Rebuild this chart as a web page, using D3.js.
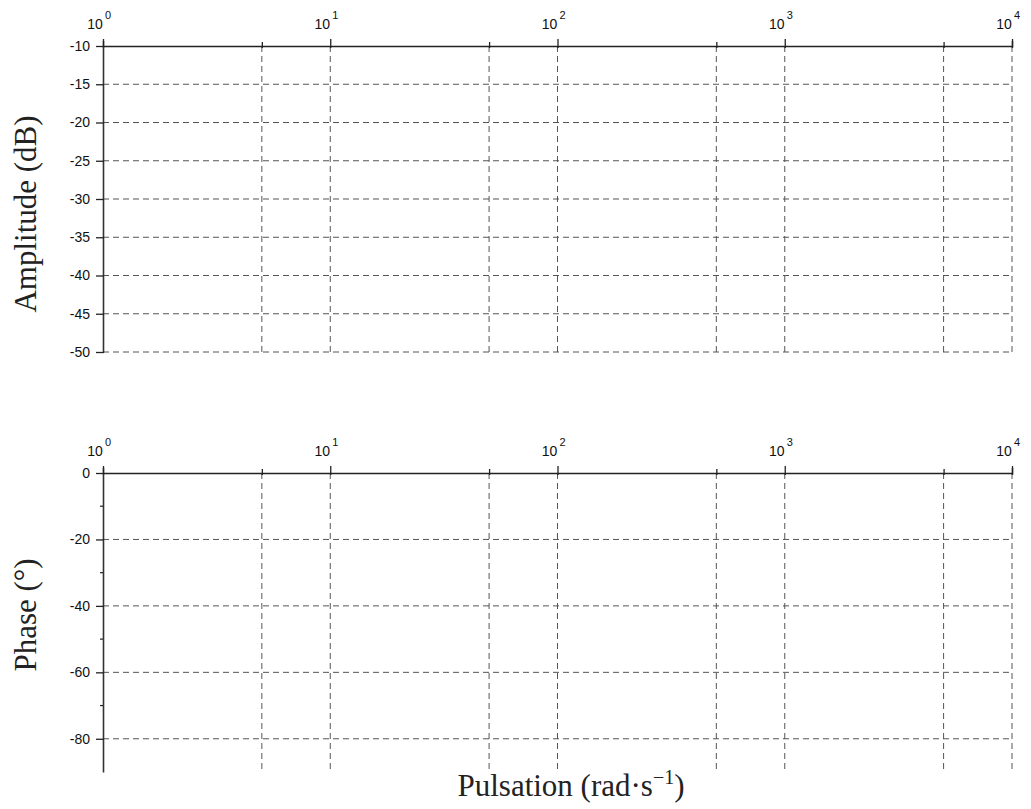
<!DOCTYPE html>
<html>
<head>
<meta charset="utf-8">
<script src="https://cdnjs.cloudflare.com/ajax/libs/d3/7.8.5/d3.min.js"></script>
<style>
  body { margin: 0; background: #fff; }
  .tick text { font-family: "Liberation Sans", Arial, sans-serif; font-size: 14px; fill: #111; }
  .title { font-family: "Liberation Serif", "Times New Roman", serif; font-size: 31px; fill: #222; }
  .grid line { stroke: #555; stroke-dasharray: 6,4; stroke-width: 1; }
</style>
</head>
<body>
<div id="chart"></div>
<script>
// frequency axis (log), shared by both plots
var freqDecades = [1, 10, 100, 1000, 10000];
var freqHalf = [5, 50, 500, 5000];
var freqDomain = [1, 10000];

// amplitude plot
var ampDomain = [-10, -50];
var ampTicks = [-10, -15, -20, -25, -30, -35, -40, -45, -50];

// phase plot
var phaseDomain = [0, -90];
var phaseTicks = [0, -20, -40, -60, -80];
var phaseMinor = [-10, -30, -50, -70];

var W = 1031, H = 809;
var svg = d3.select("#chart").append("svg")
    .attr("width", W)
    .attr("height", H);

var x = d3.scaleLog().domain(freqDomain).range([103, 1012]);
var allFreq = freqDecades.concat(freqHalf).sort(function (a, b) { return a - b; });

function drawPanel(top, bottom, domain, ticks, minor, gridTicks) {
    var y = d3.scaleLinear().domain(domain).range([top, bottom]);
    var g = svg.append("g");

    // horizontal dashed grid
    g.append("g").attr("class", "grid")
        .selectAll("line").data(gridTicks).enter().append("line")
        .attr("x1", x(freqDomain[0])).attr("x2", x(freqDomain[1]))
        .attr("y1", function (d) { return y(d); })
        .attr("y2", function (d) { return y(d); });

    // vertical dashed grid
    g.append("g").attr("class", "grid")
        .selectAll("line").data(allFreq.filter(function (d) { return d > 1; })).enter().append("line")
        .attr("x1", function (d) { return x(d); }).attr("x2", function (d) { return x(d); })
        .attr("y1", top).attr("y2", bottom);

    // top (frequency) axis
    var xa = g.append("g")
        .attr("transform", "translate(0," + top + ")")
        .call(d3.axisTop(x).tickValues(allFreq).tickFormat("").tickSizeOuter(0).tickSize(5));
    xa.select(".domain").attr("stroke", "#222").attr("stroke-width", 1.5);
    xa.selectAll(".tick line").attr("stroke", "#222").attr("stroke-width", 1.3)
        .attr("y1", 2)
        .attr("y2", function (d) { return freqDecades.indexOf(d) >= 0 ? -7 : -4; });

    // decade labels 10^n (whole label end-anchored just right of the tick)
    var lab = g.selectAll(".declab").data(freqDecades).enter().append("text")
        .attr("class", "declab")
        .attr("text-anchor", "end")
        .attr("x", function (d) { return x(d) + 8; })
        .attr("y", top - 17)
        .attr("font-family", "'Liberation Sans', Arial, sans-serif")
        .attr("fill", "#111");
    lab.append("tspan")
        .attr("font-size", 14)
        .text("10");
    lab.append("tspan")
        .attr("dx", 2)
        .attr("dy", -10)
        .attr("font-size", 11)
        .text(function (d) { return Math.round(Math.log10(d)); });

    // left axis
    var ya = g.append("g")
        .attr("transform", "translate(" + x(freqDomain[0]) + ",0)")
        .call(d3.axisLeft(y).tickValues(ticks).tickSize(7).tickSizeOuter(0).tickPadding(6)
            .tickFormat(function (d) { return d; }));
    ya.select(".domain").attr("stroke", "#333").attr("stroke-width", 1.6);
    ya.selectAll(".tick line").attr("stroke", "#222").attr("stroke-width", 1.3).attr("x2", -7).attr("x1", 1);

    if (minor.length) {
        g.selectAll(".minor").data(minor).enter().append("line")
            .attr("x1", x(freqDomain[0]) - 3).attr("x2", x(freqDomain[0]))
            .attr("y1", function (d) { return y(d); })
            .attr("y2", function (d) { return y(d); })
            .attr("stroke", "#222").attr("stroke-width", 1.2);
    }
    return y;
}

drawPanel(46, 352, ampDomain, ampTicks, [], ampTicks.slice(1));
drawPanel(473, 772, phaseDomain, phaseTicks, phaseMinor, phaseTicks.slice(1));

// axis titles
svg.append("text").attr("class", "title")
    .attr("transform", "translate(36,214) rotate(-90)")
    .attr("text-anchor", "middle")
    .text("Amplitude (dB)");

svg.append("text").attr("class", "title")
    .attr("transform", "translate(36,615) rotate(-90)")
    .attr("text-anchor", "middle")
    .text("Phase (°)");

var px = svg.append("text").attr("class", "title")
    .attr("x", 571).attr("y", 796)
    .attr("text-anchor", "middle");
px.append("tspan").text("Pulsation (rad·s");
px.append("tspan").attr("dy", -12).style("font-size", "20px").text("−1");
px.append("tspan").attr("dy", 12).text(")");
</script>
</body>
</html>
